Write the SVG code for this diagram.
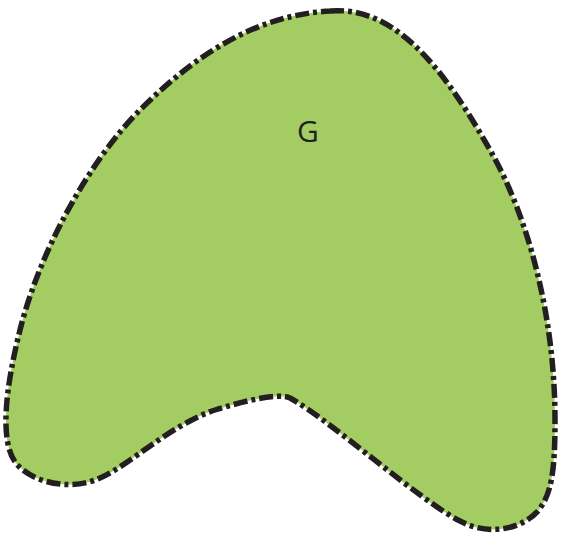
<svg xmlns="http://www.w3.org/2000/svg" width="561" height="535" viewBox="0 0 561 535">
<style>
.blob{fill:#a3cd62;stroke:#231f20;stroke-width:5.5;stroke-dasharray:14 4 4 4;stroke-linejoin:round}
.lbl{font-family:"Open Sans","Liberation Sans",sans-serif;font-size:30px;fill:#231f20;text-anchor:middle}
</style>
<g id="G">
<path class="blob" d="M 330,11 C 400,5 450,80 490,150 C 530,220 555,320 555,420 C 555,470 552,495 537,512 C 522,528 490,537 460,521 C 420,501 330,420 290,398 C 280,392 240,402 215,410 C 170,425 130,465 100,478 C 70,492 30,482 15,462 C 0,440 5,390 20,330 C 40,250 90,160 140,110 C 200,50 260,15 330,11 Z"/>
<text class="lbl" x="308" y="142">G</text>
</g>
</svg>
